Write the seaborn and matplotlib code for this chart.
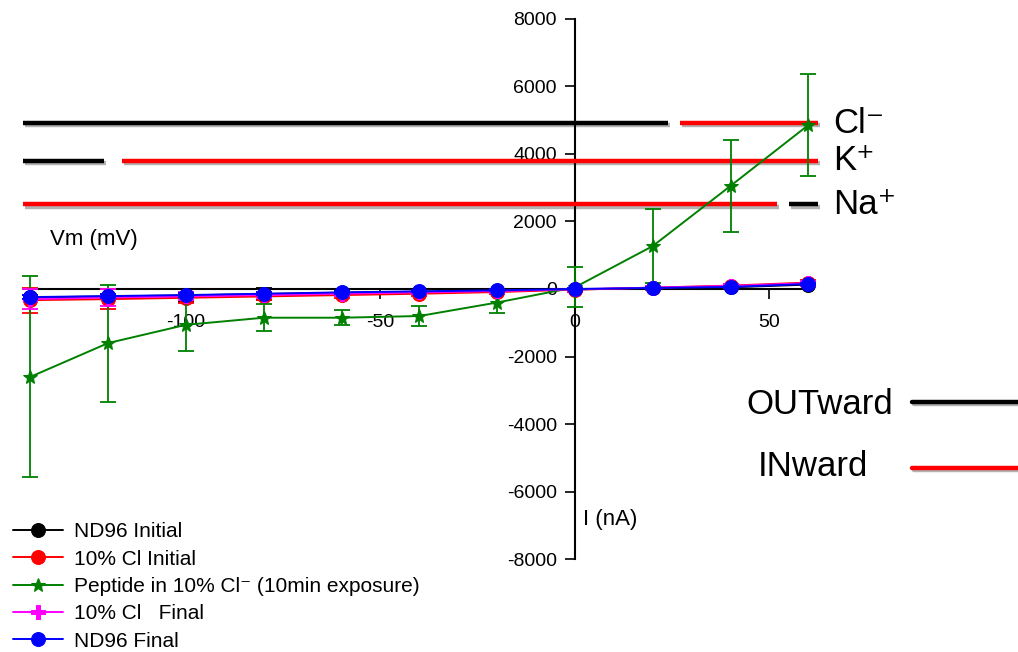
import numpy as np
import pandas as pd
import matplotlib
matplotlib.use("Agg")
import matplotlib.pyplot as plt
import matplotlib.patheffects as pe
import seaborn as sns

# ---------------- data ----------------
current_nA = [-140, -120, -100, -80, -60, -40, -20, 0, 20, 40, 60]

nd96_initial = [-250, -220, -190, -150, -110, -80, -50, -10, 20, 50, 130]
nd96_initial_err = [60, 60, 200, 180, 60, 40, 30, 30, 30, 30, 40]

cl10_initial = [-330, -300, -260, -220, -180, -140, -90, -20, 40, 100, 190]
cl10_initial_err = [370, 300, 150, 100, 80, 60, 60, 60, 60, 60, 80]

peptide = [-2600, -1600, -1060, -850, -850, -800, -400, 50, 1270, 3050, 4850]
peptide_err = [2970, 1730, 780, 400, 220, 300, 300, 590, 1090, 1350, 1520]

cl10_final = [-300, -250, -220, -180, -140, -100, -60, -10, 40, 90, 170]
cl10_final_err = [300, 250, 120, 80, 60, 50, 50, 50, 50, 50, 70]

nd96_final = [-240, -210, -180, -140, -100, -70, -40, 0, 30, 60, 150]
nd96_final_err = [60, 60, 50, 40, 40, 30, 30, 30, 30, 30, 40]

series_names = ["ND96 Initial", "10% Cl Initial",
                "Peptide in 10% Cl\u207b (10min exposure)",
                "10% Cl   Final", "ND96 Final"]

# reversal-potential guide lines (levels in y units, x extents in x units)
ion_names = ["Cl\u207b", "K\u207a", "Na\u207a"]
ion_levels = [4900, 3800, 2500]
outward_segments = [(-142, 24), (-142, -121), (55, 62.5)]
inward_segments = [(27, 62.5), (-116.5, 62.5), (-142, 52)]

# ---------------- style ----------------
sns.set_style("white")
plt.rcParams["font.family"] = ["Liberation Sans", "DejaVu Sans"]
plt.rcParams["axes.unicode_minus"] = False
plt.rcParams["text.color"] = "black"
plt.rcParams["xtick.color"] = "black"
plt.rcParams["ytick.color"] = "black"

colors = ["black", "red", "green", "magenta", "blue"]
markers = ["o", "o", "*", "P", "o"]
msizes = [10, 11, 11, 10, 11]

fig = plt.figure(figsize=(10.18, 6.52), dpi=100)
ax = fig.add_axes([0, 0, 1, 1])
ax.set_xlim(-147.8, 113.9)
ax.set_ylim(-10740, 8550)

all_y = [nd96_initial, cl10_initial, peptide, cl10_final, nd96_final]
all_e = [nd96_initial_err, cl10_initial_err, peptide_err, cl10_final_err, nd96_final_err]

for i, (name, yv, ev) in enumerate(zip(series_names, all_y, all_e)):
    ax.errorbar(current_nA, yv, yerr=ev, fmt="none", ecolor=colors[i],
                elinewidth=1.3, capsize=6, capthick=1.3, zorder=3 + 2 * i)
    df = pd.DataFrame({"I": current_nA, "V": yv})
    sns.lineplot(data=df, x="I", y="V", ax=ax, color=colors[i], marker=markers[i],
                 markersize=msizes[i], markeredgecolor=colors[i], linewidth=1.4,
                 label=name, sort=False, errorbar=None, zorder=4 + 2 * i)

# ion guide lines
shadow = [pe.SimpleLineShadow(offset=(1.5, -1.5), alpha=0.3), pe.Normal()]
for name, lvl, (o0, o1), (i0, i1) in zip(ion_names, ion_levels,
                                          outward_segments, inward_segments):
    ax.plot([o0, o1], [lvl, lvl], color="black", lw=3.2, solid_capstyle="butt",
            path_effects=shadow, zorder=2)
    ax.plot([i0, i1], [lvl, lvl], color="red", lw=3.2, solid_capstyle="butt",
            path_effects=shadow, zorder=2)
    ax.text(66.5, lvl, name, fontsize=25, va="center", ha="left")

# axes through origin
for s in ["top", "right"]:
    ax.spines[s].set_visible(False)
ax.spines["left"].set_position(("data", 0))
ax.spines["bottom"].set_position(("data", 0))
ax.spines["left"].set_bounds(-8000, 8000)
ax.spines["bottom"].set_bounds(-142, 61)
for s in ["left", "bottom"]:
    ax.spines[s].set_color("black")
    ax.spines[s].set_linewidth(1.5)
    ax.spines[s].set_zorder(1)

ax.set_xticks([-100, -50, 0, 50])
ax.set_yticks(np.arange(-8000, 8001, 2000))
ax.tick_params(axis="x", direction="out", length=7, width=1.2, pad=11,
               labelsize=14, bottom=True)
ax.tick_params(axis="y", direction="out", length=7, width=1.2, pad=6,
               labelsize=14, left=True)
ax.set_xlabel("")
ax.set_ylabel("")
ax.grid(False)

fig.text(50 / 1018, 1 - 240 / 652, "Vm (mV)", fontsize=16, va="center", ha="left")
fig.text(583 / 1018, 1 - 519 / 652, "I (nA)", fontsize=16, va="center", ha="left")

# OUTward / INward key
fig.text(893 / 1018, 1 - 405 / 652, "OUTward", fontsize=25, va="center", ha="right")
fig.text(868 / 1018, 1 - 467 / 652, "INward", fontsize=25, va="center", ha="right")
fig.add_artist(plt.Line2D([912 / 1018, 1.0], [1 - 402 / 652] * 2, color="black",
                          lw=3.2, path_effects=shadow))
fig.add_artist(plt.Line2D([912 / 1018, 1.0], [1 - 468 / 652] * 2, color="red",
                          lw=3.2, path_effects=shadow))

handles, labels = ax.get_legend_handles_labels()
for h in handles:
    h.set_markersize(10)
ax.legend(handles, labels, loc="lower left", bbox_to_anchor=(0.003, -0.014),
          bbox_transform=fig.transFigure, frameon=False, fontsize=15,
          handlelength=2.4, handletextpad=0.5, labelspacing=0.4,
          borderaxespad=0.1)

fig.savefig("out.png", dpi=100)
